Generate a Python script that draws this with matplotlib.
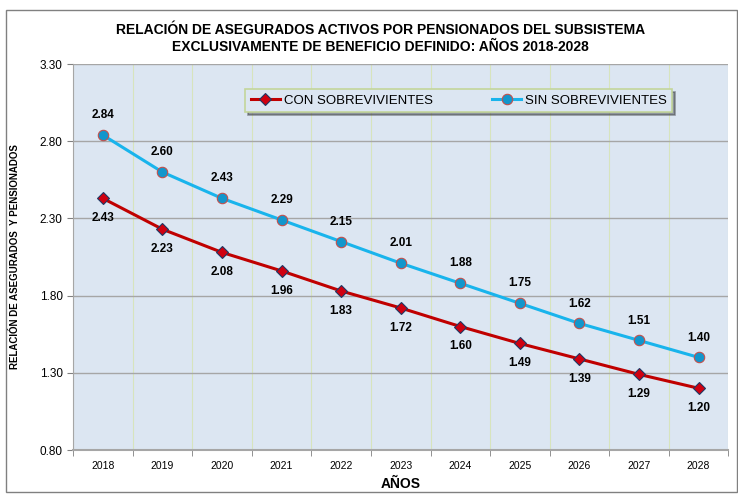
import matplotlib.pyplot as plt
import numpy as np
from matplotlib.patches import Rectangle

plt.rcParams['font.family'] = ['Liberation Sans', 'DejaVu Sans']

# Datos
anios = ['2018', '2019', '2020', '2021', '2022', '2023', '2024', '2025', '2026', '2027', '2028']
con_sobrevivientes = [2.43, 2.23, 2.08, 1.96, 1.83, 1.72, 1.60, 1.49, 1.39, 1.29, 1.20]
sin_sobrevivientes = [2.84, 2.60, 2.43, 2.29, 2.15, 2.01, 1.88, 1.75, 1.62, 1.51, 1.40]
y_ticks = [0.80, 1.30, 1.80, 2.30, 2.80, 3.30]

fig = plt.figure(figsize=(7.38, 4.94), dpi=100)
fig.patches.append(Rectangle((0.008, 0.004), 0.99, 0.975, transform=fig.transFigure,
                             fill=False, edgecolor='#808080', linewidth=1.0))

ax = fig.add_axes([0.099, 0.089, 0.888, 0.7814])
ax.set_facecolor('#DCE6F2')
x = np.arange(len(anios))

ax.plot(x, con_sobrevivientes, color='#C00000', linewidth=2.2, marker='D', markersize=6,
        markerfacecolor='#D00010', markeredgecolor='#1F3864', markeredgewidth=0.8,
        label='CON SOBREVIVIENTES', zorder=3)
ax.plot(x, sin_sobrevivientes, color='#19B4EC', linewidth=2.2, marker='o', markersize=7.5,
        markerfacecolor='#1296CC', markeredgecolor='#C0504D', markeredgewidth=0.8,
        label='SIN SOBREVIVIENTES', zorder=3)

# Etiquetas de valores
for i in x:
    ax.annotate(f'{sin_sobrevivientes[i]:.2f}', (i, sin_sobrevivientes[i]), xytext=(0, 10),
                textcoords='offset points', ha='center', va='bottom', fontsize=8.5, fontweight='bold')
    ax.annotate(f'{con_sobrevivientes[i]:.2f}', (i, con_sobrevivientes[i]), xytext=(0, -10),
                textcoords='offset points', ha='center', va='top', fontsize=8.5, fontweight='bold')

ax.set_xlim(-0.5, len(anios) - 0.5)
ax.set_ylim(0.80, 3.30)
ax.set_yticks(y_ticks)
ax.set_yticklabels([f'{v:.2f}' for v in y_ticks], fontsize=8.5)
ax.set_xticks(x)
ax.set_xticklabels(anios, fontsize=7.5)
ax.set_xticks(np.arange(-0.5, len(anios)), minor=True)
ax.tick_params(axis='x', which='major', length=0, pad=8)
ax.tick_params(axis='x', which='minor', length=4, color='#808080')
ax.tick_params(axis='y', length=4, color='#808080')

ax.grid(axis='y', color='#A6A6A6', linewidth=1.0)
ax.grid(axis='x', which='minor', color='#D7E4BD', linewidth=0.8)
ax.set_axisbelow(True)
for side in ['top', 'right']:
    ax.spines[side].set_visible(False)
ax.spines['left'].set_color('#A6A6A6')
ax.spines['bottom'].set_color('#A6A6A6')
ax.spines['bottom'].set_linewidth(1.5)

ax.set_xlabel('AÑOS', fontsize=10, fontweight='bold', labelpad=4)
ax.set_ylabel('RELACIÓN DE ASEGURADOS  Y PENSIONADOS', fontsize=7, fontweight='bold', labelpad=14)

leg = ax.legend(loc='upper left', bbox_to_anchor=(0.263, 0.935), ncol=2, fontsize=9.5,
                frameon=True, fancybox=False, shadow=True, columnspacing=4.5,
                handlelength=2.2, borderpad=0.4, handletextpad=0.3, borderaxespad=0)
leg.get_frame().set_edgecolor('#C3D69B')
leg.get_frame().set_facecolor('#DCE6F2')
leg.get_frame().set_linewidth(1.2)

fig.text(0.515, 0.922, 'RELACIÓN DE ASEGURADOS ACTIVOS POR PENSIONADOS DEL SUBSISTEMA\n'
         'EXCLUSIVAMENTE DE BENEFICIO DEFINIDO: AÑOS 2018-2028',
         ha='center', va='center', fontsize=10, fontweight='bold', linespacing=1.2)

fig.savefig('out.png', dpi=100)
